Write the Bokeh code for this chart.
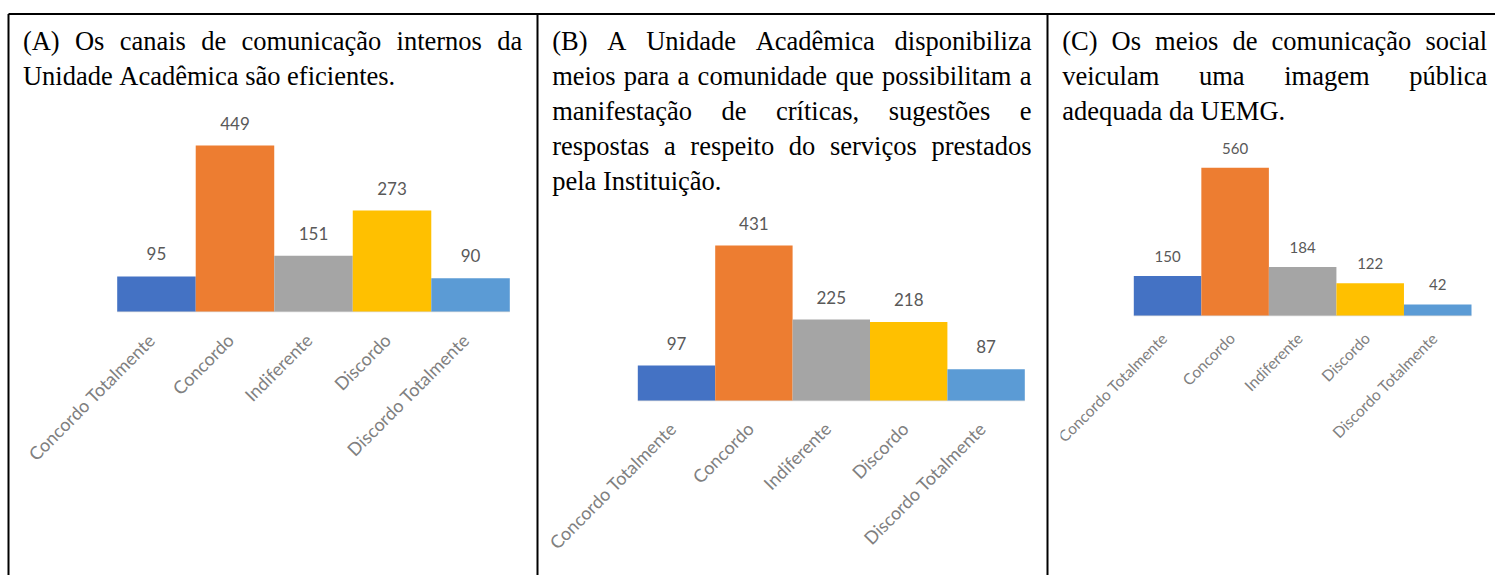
import numpy as np
from bokeh.plotting import figure
from bokeh.models import Range1d, ColumnDataSource
from bokeh.core.properties import value
from bokeh.embed import file_html
from bokeh.resources import INLINE

# ---------------- data ----------------
categories = ["Concordo Totalmente", "Concordo", "Indiferente", "Discordo", "Discordo Totalmente"]
values_a = [95, 449, 151, 273, 90]
values_b = [97, 431, 225, 218, 87]
values_c = [150, 560, 184, 122, 42]
bar_colors = ["#4472C4", "#ED7D31", "#A5A5A5", "#FFC000", "#5B9BD5"]

title_a = ["(A) Os canais de comunicação internos da",
           "Unidade Acadêmica são eficientes."]
title_b = ["(B) A Unidade Acadêmica disponibiliza",
           "meios para a comunidade que possibilitam a",
           "manifestação de críticas, sugestões e",
           "respostas a respeito do serviços prestados",
           "pela Instituição."]
title_c = ["(C) Os meios de comunicação social",
           "veiculam uma imagem pública",
           "adequada da UEMG."]

# ---------------- layout ----------------
W, H = 1495, 575
X0, Y0 = 0, 0
SERIF = "Liberation Serif"
SANS = "Lato"
TITLE_SIZE = 26.5
LINE_STEP = 35.0
FIRST_BASE = 40.0

# Times / Liberation Serif advance widths (per 1000 em)
TW = {' ': 250, '(': 333, ')': 333, ',': 250, '.': 250,
      'A': 722, 'B': 667, 'C': 667, 'E': 611, 'G': 722, 'I': 333, 'M': 889, 'O': 722, 'U': 722,
      'a': 444, 'b': 500, 'c': 444, 'd': 500, 'e': 444, 'f': 333, 'g': 500, 'h': 500, 'i': 278,
      'j': 278, 'k': 500, 'l': 278, 'm': 778, 'n': 500, 'o': 500, 'p': 500, 'q': 500, 'r': 333,
      's': 389, 't': 278, 'u': 500, 'v': 500, 'w': 722, 'x': 500, 'y': 500, 'z': 444,
      'ç': 444, 'ã': 444, 'â': 444, 'á': 444, 'ê': 444, 'é': 444, 'í': 278, 'õ': 500, 'ó': 500, 'ú': 500}


def word_width(w):
    return sum(TW.get(ch, 500) for ch in w) * TITLE_SIZE / 1000.0


panels = [
    dict(key="a", values=values_a, bar_left=116.7, bar_right=509.3, base=311.0, pxu=0.3697,
         val_size=17, val_off=-22.5, cat_size=18, cat_dx=-12.5, cat_dy=17.5,
         title=title_a, t_left=22.4, t_right=521.7),
    dict(key="b", values=values_b, bar_left=637.3, bar_right=1024.3, base=400.0, pxu=0.3596,
         val_size=17, val_off=-22.5, cat_size=18, cat_dx=-11.5, cat_dy=17,
         title=title_b, t_left=551.7, t_right=1031.0),
    dict(key="c", values=values_c, bar_left=1133.3, bar_right=1471.0, base=315.0, pxu=0.2637,
         val_size=15, val_off=-19.5, cat_size=15.5, cat_dx=-9.5, cat_dy=13.5,
         title=title_c, t_left=1061.7, t_right=1486.7),
]

p = figure(width=W, height=H,
           x_range=Range1d(X0, X0 + W), y_range=Range1d(Y0 + H, Y0),
           output_backend="svg", toolbar_location=None, min_border=0,
           x_axis_location=None, y_axis_location=None, outline_line_color=None)
p.grid.visible = False
p.background_fill_color = "white"
p.border_fill_color = "white"

idx = np.arange(len(categories))

for pn in panels:
    k = pn["key"]
    n = len(categories)
    unit = (pn["bar_right"] - pn["bar_left"]) / n
    xs = (X0 - pn["bar_left"]) / unit - 0.5
    xe = (X0 + W - pn["bar_left"]) / unit - 0.5
    ys = (pn["base"] - (Y0 + H)) / pn["pxu"]
    ye = (pn["base"] - Y0) / pn["pxu"]
    p.extra_x_ranges["x" + k] = Range1d(xs, xe)
    p.extra_y_ranges["y" + k] = Range1d(ys, ye)

    src = ColumnDataSource(dict(x=idx, top=pn["values"], color=bar_colors,
                                label=[str(v) for v in pn["values"]], cat=categories,
                                zero=[0] * n))
    # faint axis line
    p.segment(x0=[-0.5], y0=[0], x1=[n - 0.5], y1=[0], line_color="#d9d9d9", line_width=1.5,
              x_range_name="x" + k, y_range_name="y" + k)
    p.vbar(x="x", top="top", bottom=0, width=1.0, fill_color="color", line_color=None,
           source=src, x_range_name="x" + k, y_range_name="y" + k)
    p.text(x="x", y="top", text="label", source=src, text_align="center",
           text_baseline="alphabetic", y_offset=pn["val_off"],
           text_font=value(SANS), text_font_size=f"{pn['val_size']}px", text_color="#595959",
           x_range_name="x" + k, y_range_name="y" + k)
    p.text(x="x", y="zero", text="cat", source=src, angle=np.pi / 4,
           text_align="right", text_baseline="top",
           x_offset=pn["cat_dx"], y_offset=pn["cat_dy"],
           text_font=value(SANS), text_font_size=f"{pn['cat_size']}px", text_color="#808080",
           x_range_name="x" + k, y_range_name="y" + k)

    # justified title words
    wx, wy, wt = [], [], []
    lines = pn["title"]
    for li, line in enumerate(lines):
        words = line.split(" ")
        widths = [word_width(w) for w in words]
        y = FIRST_BASE + li * LINE_STEP
        if li < len(lines) - 1 and len(words) > 1:
            gap = (pn["t_right"] - pn["t_left"] - sum(widths)) / (len(words) - 1)
        else:
            gap = TW[' '] * TITLE_SIZE / 1000.0
        x = pn["t_left"]
        for w, ww in zip(words, widths):
            wx.append(x); wy.append(y); wt.append(w)
            x += ww + gap
    p.text(x=wx, y=wy, text=wt, text_align="left", text_baseline="alphabetic",
           text_font=value(SERIF), text_font_size=f"{TITLE_SIZE}px", text_color="black")

# clip of the first category label in panel C by its chart area
p.quad(left=[1048.5], right=[1060], top=[320], bottom=[Y0 + H], fill_color="white", line_color=None)

# table borders
p.segment(x0=[8], y0=[13.5], x1=[X0 + W], y1=[13.5], line_color="black", line_width=2)
p.segment(x0=[8, 537, 1047], y0=[13.5] * 3, x1=[8, 537, 1047], y1=[Y0 + H] * 3,
          line_color="black", line_width=2)

open("out.html", "w").write(file_html(p, INLINE))
